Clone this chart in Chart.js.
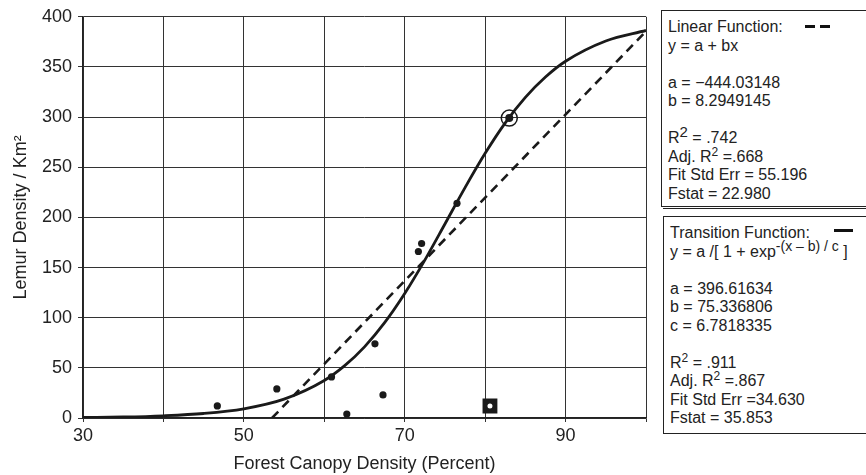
<!DOCTYPE html>
<html lang="en">
<head>
<meta charset="UTF-8" />
<title>Lemur Density vs Forest Canopy</title>
<script src="https://cdn.jsdelivr.net/npm/chart.js"></script>
<style>
    body {
        margin: 0;
        background: #fff;
        font-family: "Liberation Sans", Arial, sans-serif;
        color: #222;
    }
    .wrap {
        position: relative;
        width: 866px;
        height: 475px;
        overflow: hidden;
    }
    canvas {
        position: absolute;
        left: 0;
        top: 0;
    }
    .fit-box {
        position: absolute;
        width: 230px;
        border: 1.5px solid #222;
        background: #fff;
        box-sizing: border-box;
        padding: 7px 0 0 6px;
        font-size: 16px;
        line-height: 18.5px;
        white-space: nowrap;
    }
    .fit-box .blank { height: 18.5px; }
    .fit-box sup { font-size: 12px; line-height: 0; }
    .fit-box sup.big { font-size: 15px; }
    .fit-box sup.expo { font-size: 14px; }
    #box1 { left: 661px; top: 10px; height: 197px; }
    #box2 { left: 663px; top: 216px; height: 218px; }
    #shadow1 {
        position: absolute;
        left: 663px;
        top: 208px;
        width: 220px;
        border-top: 1.5px solid #222;
    }
    .sample {
        position: absolute;
        height: 3px;
        background: #111;
    }
</style>
</head>
<body>

<div class="wrap">
  <canvas id="fitChart" width="866" height="475"></canvas>

  <div class="fit-box" id="box1">
    <div>Linear Function:</div>
    <div>y = a + bx</div>
    <div class="blank"></div>
    <div>a = &minus;444.03148</div>
    <div>b = 8.2949145</div>
    <div class="blank"></div>
    <div>R<sup class="big">2</sup> = .742</div>
    <div>Adj. R<sup>2</sup> =.668</div>
    <div>Fit Std Err = 55.196</div>
    <div>Fstat = 22.980</div>
  </div>
  <div id="shadow1"></div>
  <div class="sample" style="left:805px; top:25px; width:10px;"></div>
  <div class="sample" style="left:820px; top:25px; width:10px;"></div>

  <div class="fit-box" id="box2">
    <div>Transition Function:</div>
    <div>y = a /[ 1 + exp<sup class="expo">-(x &ndash; b) / c</sup> ]</div>
    <div class="blank"></div>
    <div>a = 396.61634</div>
    <div>b = 75.336806</div>
    <div>c = 6.7818335</div>
    <div class="blank"></div>
    <div>R<sup>2</sup> = .911</div>
    <div>Adj. R<sup>2</sup> =.867</div>
    <div>Fit Std Err =34.630</div>
    <div>Fstat = 35.853</div>
  </div>
  <div class="sample" style="left:834px; top:229px; width:19px;"></div>
</div>

<script>
    // observed sites
    const canopy = [46.7, 54.1, 60.9, 62.8, 66.3, 67.3, 71.7, 72.1, 76.5];
    const lemurs = [12, 29, 41, 4, 74, 23, 166, 174, 214];

    // highlighted site (circled) and excluded outlier (square)
    const circledX = [83];
    const circledY = [299];
    const outlierX = [80.6];
    const outlierY = [12];

    // linear fit
    const linearX = [53.5, 100];
    const linearY = [0, 385.5];

    // transition (logistic) fit
    const curveX = [30, 35, 40, 45, 50, 55, 60, 62.5, 65, 67.5, 70, 72.5, 75, 77.5, 80, 82.5, 85, 87.5, 90, 95, 100];
    const curveY = [0.5, 1.0, 2.2, 4.5, 9.2, 18.8, 37.4, 51.9, 70.9, 95.0, 124.1, 157.4, 193.4, 229.7, 263.9, 294.3, 319.7, 340.0, 355.7, 375.9, 386.4];

    const xLabels = [30, 50, 70, 90];

    function pairs(xs, ys) {
        return xs.map((x, i) => ({ x: x, y: ys[i] }));
    }

    const ink = '#1a1a1a';

    const ctx = document.getElementById('fitChart').getContext('2d');
    new Chart(ctx, {
        type: 'scatter',
        data: {
            datasets: [
                {
                    label: 'outlier dot',
                    data: pairs(outlierX, outlierY),
                    pointStyle: 'circle',
                    pointRadius: 2.5,
                    backgroundColor: '#fff',
                    borderWidth: 0
                },
                {
                    label: 'outlier',
                    data: pairs(outlierX, outlierY),
                    pointStyle: 'rect',
                    pointRadius: 10.5,
                    backgroundColor: ink,
                    borderWidth: 0
                },
                {
                    label: 'circled dot',
                    data: pairs(circledX, circledY),
                    pointRadius: 4,
                    backgroundColor: ink,
                    borderWidth: 0
                },
                {
                    label: 'circled ring',
                    data: pairs(circledX, circledY),
                    pointRadius: 8,
                    backgroundColor: 'rgba(0,0,0,0)',
                    borderColor: ink,
                    borderWidth: 1.5
                },
                {
                    label: 'sites',
                    data: pairs(canopy, lemurs),
                    pointRadius: 3.6,
                    backgroundColor: ink,
                    borderWidth: 0
                },
                {
                    label: 'Transition Function',
                    data: pairs(curveX, curveY),
                    showLine: true,
                    pointRadius: 0,
                    borderColor: ink,
                    borderWidth: 2.8,
                    cubicInterpolationMode: 'monotone'
                },
                {
                    label: 'Linear Function',
                    data: pairs(linearX, linearY),
                    showLine: true,
                    pointRadius: 0,
                    borderColor: ink,
                    borderWidth: 2.6,
                    borderDash: [9, 6]
                }
            ]
        },
        options: {
            responsive: false,
            animation: false,
            layout: { padding: { left: 0, right: 220, top: 13, bottom: 0 } },
            plugins: {
                legend: { display: false },
                tooltip: { enabled: false }
            },
            scales: {
                x: {
                    type: 'linear',
                    min: 30,
                    max: 100,
                    afterFit: s => { s.height = 57; },
                    grid: { color: '#333', lineWidth: 1, tickLength: 4, tickColor: '#333' },
                    border: { color: '#222', width: 1.5 },
                    ticks: {
                        stepSize: 10,
                        autoSkip: false,
                        maxRotation: 0,
                        padding: 3,
                        color: '#222',
                        font: { family: 'Liberation Sans', size: 18 },
                        callback: v => xLabels.includes(v) ? v : ''
                    },
                    title: {
                        display: true,
                        text: 'Forest Canopy Density (Percent)',
                        color: '#222',
                        font: { family: 'Liberation Sans', size: 18 },
                        padding: { top: 2, bottom: 0 }
                    }
                },
                y: {
                    min: 0,
                    max: 400,
                    afterFit: s => { s.width = 83; },
                    grid: { color: '#333', lineWidth: 1, tickLength: 5, tickColor: '#333' },
                    border: { color: '#222', width: 1.5 },
                    ticks: {
                        stepSize: 50,
                        padding: 6,
                        color: '#222',
                        font: { family: 'Liberation Sans', size: 18 }
                    },
                    title: {
                        display: true,
                        text: 'Lemur Density / Km²',
                        color: '#222',
                        font: { family: 'Liberation Sans', size: 18 },
                        padding: { top: 10, bottom: 0 }
                    }
                }
            }
        }
    });
</script>

</body>
</html>
